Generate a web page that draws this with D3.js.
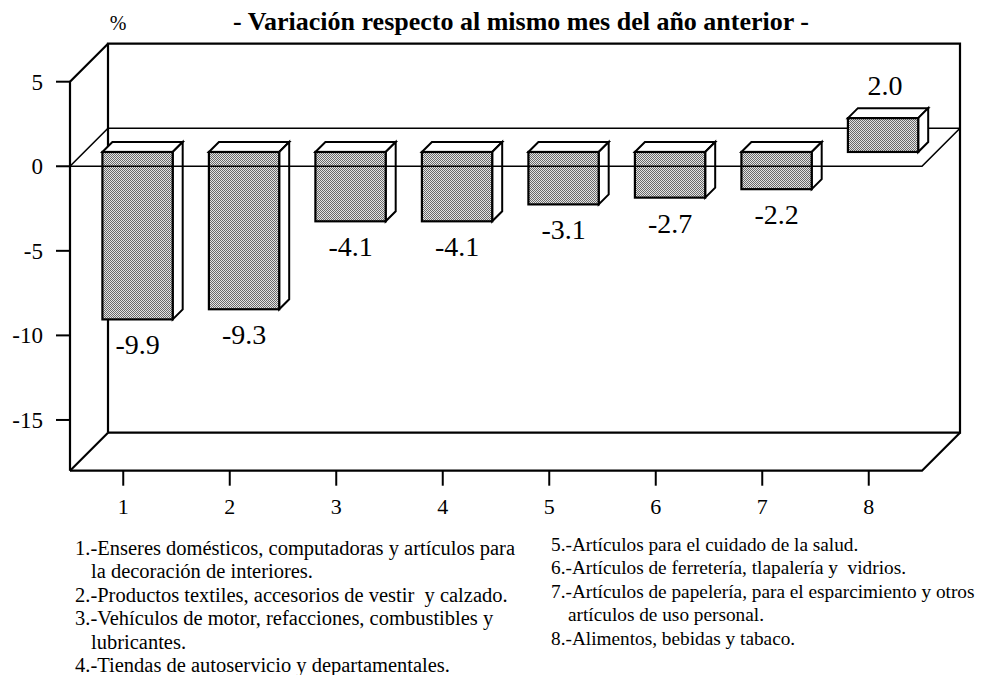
<!DOCTYPE html>
<html lang="es">
<head>
    <meta charset="utf-8">
    <title>Variación respecto al mismo mes del año anterior</title>
    <script src="https://d3js.org/d3.v7.min.js"></script>
    <style>
        body { margin: 0; background: #fff; }
        text { font-family: "Liberation Serif", "Times New Roman", Times, serif; fill: #000; white-space: pre; }
    </style>
</head>
<body>
<svg width="984" height="675"></svg>
<script>
    // datos
    var categories = ["1", "2", "3", "4", "5", "6", "7", "8"];
    var values = [-9.9, -9.3, -4.1, -4.1, -3.1, -2.7, -2.2, 2.0];
    var yTicks = [5, 0, -5, -10, -15];
    var legendLeft = [
        ["1.-Enseres domésticos, computadoras y artículos para", "la decoración de interiores."],
        ["2.-Productos textiles, accesorios de vestir  y calzado."],
        ["3.-Vehículos de motor, refacciones, combustibles y", "lubricantes."],
        ["4.-Tiendas de autoservicio y departamentales."]
    ];
    var legendRight = [
        ["5.-Artículos para el cuidado de la salud."],
        ["6.-Artículos de ferretería, tlapalería y  vidrios."],
        ["7.-Artículos de papelería, para el esparcimiento y otros", "artículos de uso personal."],
        ["8.-Alimentos, bebidas y tabaco."]
    ];

    var svg = d3.select("svg");
    var depth = 38;        // profundidad de la caja 3D
    var barFront = 14.3;   // posicion de la cara frontal de la barra
    var barDepth = 10;

    var x = d3.scaleBand().domain(categories).range([70, 922]).paddingInner(0.34).paddingOuter(0.17);
    var xc = d3.scalePoint().domain(categories).range([70, 922]).padding(0.5);
    var y = d3.scaleLinear().domain([-18, 5]).range([470.7, 81.7]);

    // patron gris punteado
    var pat = svg.append("defs").append("pattern")
        .attr("id", "dots").attr("width", 2).attr("height", 2)
        .attr("patternUnits", "userSpaceOnUse");
    pat.append("rect").attr("width", 2).attr("height", 2).attr("fill", "#e4e4e4");
    pat.append("rect").attr("width", 1).attr("height", 1).attr("fill", "#6a6a6a");
    pat.append("rect").attr("x", 1).attr("y", 1).attr("width", 1).attr("height", 1).attr("fill", "#6a6a6a");

    var line = function(pts, w) {
        svg.append("path").attr("d", d3.line()(pts))
            .attr("fill", "none").attr("stroke", "#000").attr("stroke-width", w || 2.2)
            .attr("stroke-linejoin", "miter");
    };

    var xL = 70, xR = 922, yTop = y(5), yBot = y(-18), y0 = y(0);

    // pared de fondo
    line([[xL + depth, yBot - depth], [xL + depth, yTop - depth], [xR + depth, yTop - depth], [xR + depth, yBot - depth], [xL + depth, yBot - depth]]);
    // piso
    line([[xL, yBot], [xR, yBot], [xR + depth, yBot - depth]]);
    line([[xL, yBot], [xL + depth, yBot - depth]]);
    // lado izquierdo
    line([[xL, yBot], [xL, yTop], [xL + depth, yTop - depth]]);
    // plano cero (fondo)
    line([[xL, y0], [xL + depth, y0 - depth], [xR + depth, y0 - depth]], 1.6);

    // barras 3D
    var bars = svg.append("g").selectAll("g").data(values).enter().append("g");
    bars.each(function(d, i) {
        var g = d3.select(this);
        var left = xc(categories[i]) - x.bandwidth() / 2 + barFront;
        var right = left + x.bandwidth();
        var yt = Math.min(y(d), y0) - barFront;
        var yb = Math.max(y(d), y0) - barFront;
        g.append("polygon")
            .attr("points", [[left, yt], [left + barDepth, yt - barDepth], [right + barDepth, yt - barDepth], [right, yt]].join(" "))
            .attr("fill", "#fff").attr("stroke", "#000").attr("stroke-width", 2);
        g.append("polygon")
            .attr("points", [[right, yt], [right + barDepth, yt - barDepth], [right + barDepth, yb - barDepth], [right, yb]].join(" "))
            .attr("fill", "#fff").attr("stroke", "#000").attr("stroke-width", 2);
        g.append("rect")
            .attr("x", left).attr("y", yt).attr("width", right - left).attr("height", yb - yt)
            .attr("fill", "url(#dots)").attr("stroke", "#000").attr("stroke-width", 2.2);
        g.append("text")
            .attr("x", (left + right) / 2 + (d < 0 ? 0 : 2))
            .attr("y", d < 0 ? yb + 35 : yt - barDepth - 13)
            .attr("text-anchor", "middle").attr("font-size", 28)
            .text(d3.format(".1f")(d).replace("−", "-"));
    });

    // plano cero (frente)
    line([[xL, y0], [xR, y0], [xR + depth, y0 - depth]], 1.6);

    // eje y
    yTicks.forEach(function(t) {
        line([[xL - 14, y(t)], [xL, y(t)]], 2);
        svg.append("text").attr("x", 43).attr("y", y(t) + 8)
            .attr("text-anchor", "end").attr("font-size", 23).text(t);
    });

    // eje x
    categories.forEach(function(c) {
        line([[xc(c), yBot], [xc(c), yBot + 15]], 2);
        svg.append("text").attr("x", xc(c)).attr("y", yBot + 43)
            .attr("text-anchor", "middle").attr("font-size", 22).text(c);
    });

    // titulo
    svg.append("text").attr("x", 118).attr("y", 30).attr("text-anchor", "middle")
        .attr("font-size", 20).text("%");
    svg.append("text").attr("x", 521).attr("y", 30).attr("text-anchor", "middle")
        .attr("font-size", 26).attr("font-weight", "bold")
        .text("- Variación respecto al mismo mes del año anterior -");

    // notas
    function legend(items, x0, yStart, indent, size) {
        var yy = yStart;
        items.forEach(function(it) {
            it.forEach(function(s, k) {
                svg.append("text").attr("x", k === 0 ? x0 : x0 + indent).attr("y", yy)
                    .attr("font-size", size).text(s);
                yy += 23.4;
            });
        });
    }
    legend(legendLeft, 75, 555, 16, 20.5);
    legend(legendRight, 551, 551, 17, 19.3);
</script>
</body>
</html>
